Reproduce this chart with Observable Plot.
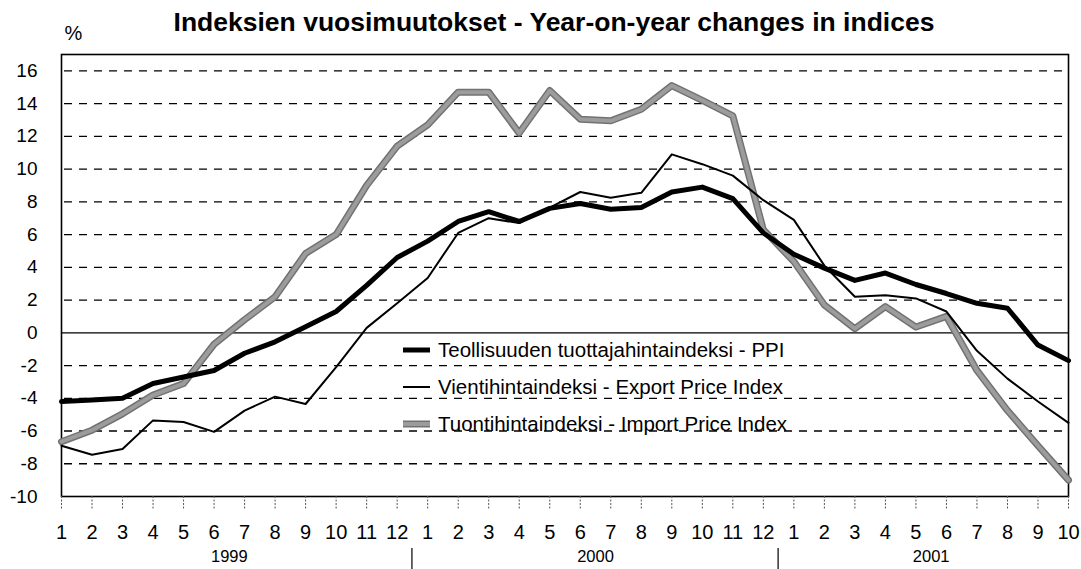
<!DOCTYPE html>
<html>
<head>
<meta charset="utf-8">
<script src="https://cdn.jsdelivr.net/npm/d3@7"></script>
<script src="https://cdn.jsdelivr.net/npm/@observablehq/plot@0.6"></script>
<style>
  html, body { margin: 0; padding: 0; background: #fff; }
  #chart { width: 1081px; height: 569px; }
</style>
</head>
<body>
<div id="chart"></div>
<script>
// ---- data ----
const monthLabels = ["1","2","3","4","5","6","7","8","9","10","11","12",
                     "1","2","3","4","5","6","7","8","9","10","11","12",
                     "1","2","3","4","5","6","7","8","9","10"];
const years = ["1999", "2000", "2001"];
const yearFirstIndex = [1, 13, 25];
const yearLastIndex = [12, 24, 34];

const ppi = [-4.2,-4.1,-4.0,-3.1,-2.7,-2.3,-1.25,-0.55,0.37,1.3,2.9,4.6,
             5.6,6.8,7.4,6.8,7.6,7.9,7.55,7.65,8.6,8.9,8.2,6.1,
             4.8,3.95,3.2,3.65,2.95,2.4,1.8,1.5,-0.75,-1.7];
const exportIdx = [-6.9,-7.45,-7.1,-5.35,-5.45,-6.05,-4.75,-3.9,-4.35,-2.1,0.3,1.8,
                   3.35,6.1,7.0,6.7,7.65,8.6,8.25,8.55,10.9,10.3,9.6,8.1,
                   6.9,4.1,2.2,2.3,2.1,1.3,-1.1,-2.8,-4.2,-5.5];
const importIdx = [-6.65,-5.95,-4.95,-3.8,-3.1,-0.7,0.8,2.2,4.85,6.0,9.0,11.4,
                   12.7,14.7,14.7,12.2,14.8,13.05,12.95,13.65,15.1,14.2,13.25,6.3,
                   4.35,1.7,0.25,1.6,0.35,1.0,-2.3,-4.75,-6.9,-9.0];
const seriesNames = ["Teollisuuden tuottajahintaindeksi - PPI",
                     "Vientihintaindeksi - Export Price Index",
                     "Tuontihintaindeksi - Import Price Index"];
const yTicks = [-10,-8,-6,-4,-2,0,2,4,6,8,10,12,14,16];
const titleText = "Indeksien vuosimuutokset - Year-on-year changes in indices";
const unitText = "%";

// ---- build ----
const idx = monthLabels.map((_, i) => i + 1);
const toRows = arr => arr.map((v, i) => ({i: i + 1, v}));
const gridVals = yTicks.filter(d => d !== 0 && d !== -10);
const yearRows = years.map((y, k) => ({y, mid: (yearFirstIndex[k] + yearLastIndex[k]) / 2}));
const separators = yearFirstIndex.slice(1).map(f => f - 0.5);

const font = "'Liberation Sans', Arial, Helvetica, sans-serif";
const importOuter = "#727272", importInner = "#9c9c9c";

const chart = Plot.plot({
  width: 1081,
  height: 569,
  marginLeft: 61,
  marginRight: 13,
  marginTop: 54,
  marginBottom: 73,
  style: {fontFamily: font, background: "#fff", color: "#000", overflow: "visible"},
  x: {domain: [1, 34], axis: null},
  y: {domain: [-10, 17], axis: null},
  marks: [
    Plot.ruleY(gridVals, {stroke: "#000", strokeWidth: 1.3, strokeDasharray: "8,7", insetLeft: 3, insetRight: 6}),
    Plot.ruleY([0], {stroke: "#000", strokeWidth: 1.3}),
    Plot.frame({stroke: "#000", strokeWidth: 1.6}),
    Plot.axisY({ticks: yTicks, tickSize: 0, tickPadding: 24, fontSize: 19, label: null, tickFormat: d => String(d)}),
    Plot.axisX({ticks: idx, tickSize: 14, tickPadding: 14, fontSize: 20, label: null,
                tickFormat: i => monthLabels[i - 1], stroke: "#555", strokeDasharray: "2,1.5"}),
    Plot.text(yearRows, {x: "mid", text: "y", frameAnchor: "bottom", dy: 65, fontSize: 16.5}),
    // import (gray, outlined)
    Plot.line(toRows(importIdx), {x: "i", y: "v", stroke: importOuter, strokeWidth: 7}),
    Plot.line(toRows(importIdx), {x: "i", y: "v", stroke: importInner, strokeWidth: 4}),
    // export (thin black)
    Plot.line(toRows(exportIdx), {x: "i", y: "v", stroke: "#000", strokeWidth: 2}),
    // PPI (thick black)
    Plot.line(toRows(ppi), {x: "i", y: "v", stroke: "#000", strokeWidth: 5}),
    Plot.text([titleText], {frameAnchor: "top", dx: -11, dy: -31.5, fontSize: 26.5, fontWeight: "bold", lineAnchor: "middle"}),
    Plot.text([unitText], {frameAnchor: "top-left", dx: 12, dy: -21, fontSize: 20, textAnchor: "middle", lineAnchor: "middle"})
  ]
});

document.getElementById("chart").appendChild(chart);

// year separators below the axis, placed with the chart's own x scale
const sx = chart.scale("x");
const svg = d3.select(chart);
svg.append("g").selectAll("line").data(separators).join("line")
  .attr("x1", d => sx.apply(d)).attr("x2", d => sx.apply(d))
  .attr("y1", 548).attr("y2", 569)
  .attr("stroke", "#000").attr("stroke-width", 1.2);

// legend (inside plot area)
const legendStyles = [
  [{stroke: "#000", width: 5}],
  [{stroke: "#000", width: 2}],
  [{stroke: importOuter, width: 7}, {stroke: importInner, width: 4}]
];
const legendY = [350, 387, 424];
const leg = svg.append("g").attr("text-anchor", "start");
seriesNames.forEach((name, k) => {
  legendStyles[k].forEach(s => {
    leg.append("line").attr("x1", 403).attr("x2", 430).attr("y1", legendY[k]).attr("y2", legendY[k])
      .attr("stroke", s.stroke).attr("stroke-width", s.width);
  });
  leg.append("text").attr("x", 438).attr("y", legendY[k]).attr("dy", "0.35em")
    .attr("text-anchor", "start")
    .attr("font-size", 20.5).attr("font-family", font).attr("fill", "#000").text(name);
});
</script>
</body>
</html>
